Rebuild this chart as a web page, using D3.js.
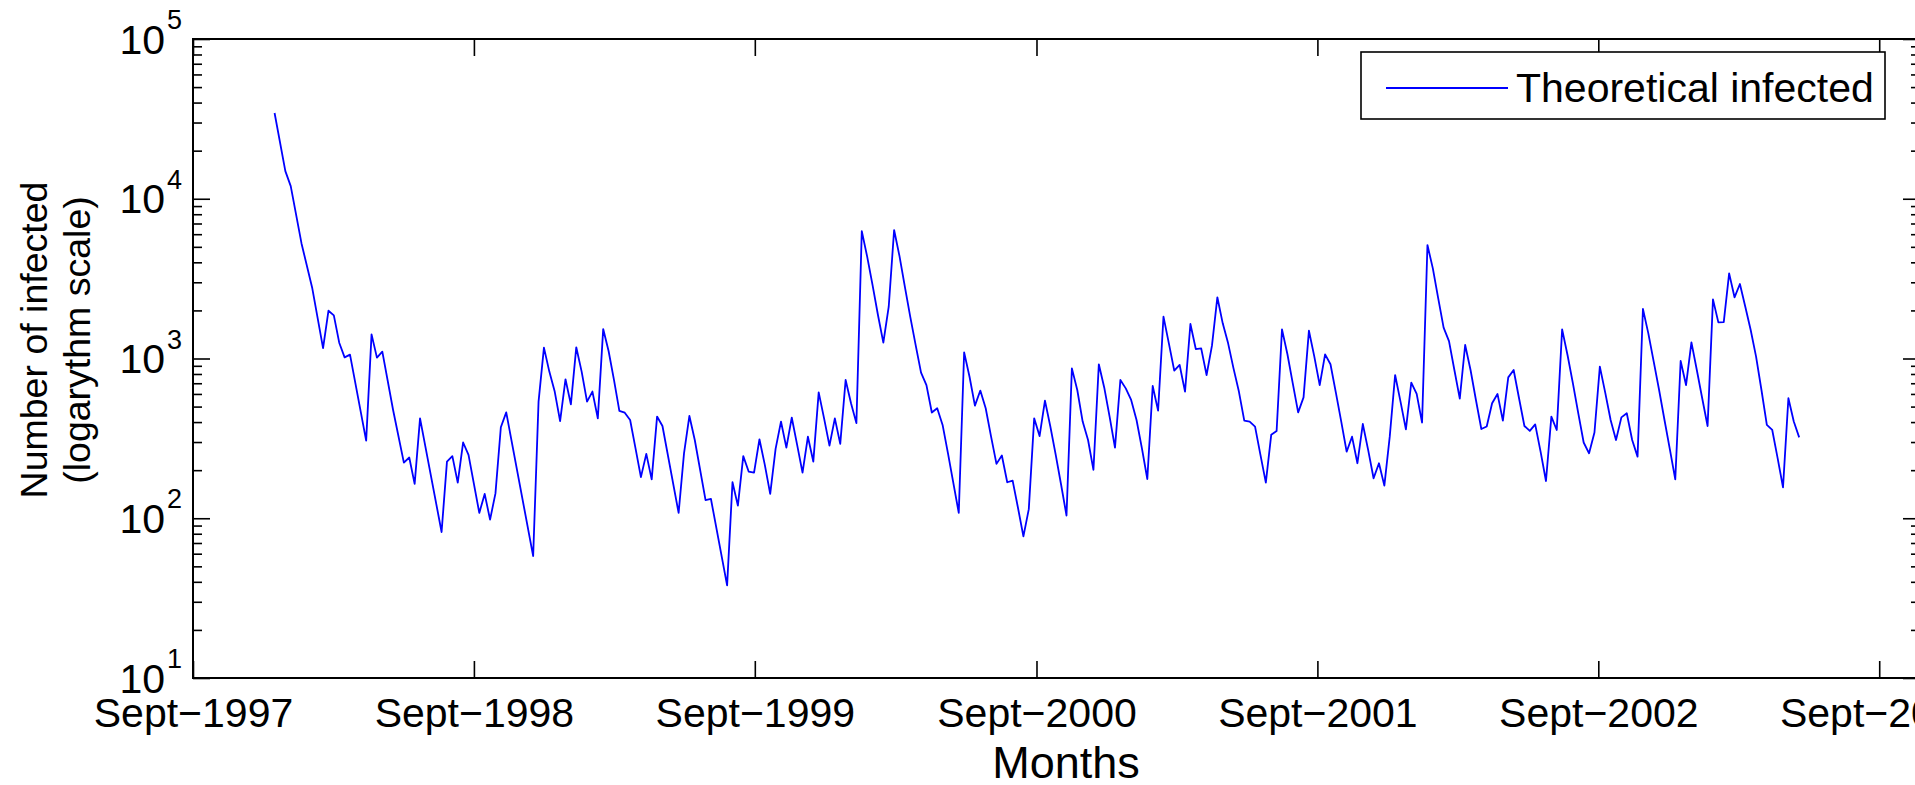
<!DOCTYPE html>
<html lang="en">
<head>
  <meta charset="utf-8">
  <title>Theoretical infected</title>
  <script src="https://d3js.org/d3.v7.min.js"></script>
  <style>
    body { margin: 0; background: #fff; overflow: hidden; }
    .mychart text { font-family: "Liberation Sans", Arial, sans-serif; fill: #000; }
    .mychart .tick line { stroke: #000; stroke-width: 1.6; }
  </style>
</head>
<body>
  <div class="mychart" id="chart"></div>

  <script type="text/javascript">
    "use strict"

    // weeks counted from the first point (16 Dec 1997), one value per visible vertex
    var semanas = [0, 2, 3, 5, 7, 9, 10, 11, 12, 13, 14, 17, 18, 19, 20, 22, 24, 25, 26, 27,
      31, 32, 33, 34, 35, 36, 38, 39, 40, 41, 42, 43, 48, 49, 50, 51, 52, 53, 54, 55,
      56, 57, 58, 59, 60, 61, 62, 63, 64, 65, 66, 67, 68, 69, 70, 71, 72, 75, 76, 77,
      78, 80, 81, 84, 85, 86, 87, 88, 89, 90, 91, 92, 93, 94, 95, 96, 97, 98, 99, 100,
      101, 102, 103, 104, 105, 106, 107, 108, 109, 110, 111, 112, 113, 114, 115, 116, 117, 118, 119, 120,
      121, 122, 123, 124, 125, 126, 127, 128, 129, 130, 131, 132, 133, 134, 135, 136, 137, 138, 139, 140,
      141, 142, 143, 144, 145, 146, 147, 148, 149, 150, 151, 152, 153, 154, 155, 156, 157, 158, 159, 160,
      161, 162, 163, 164, 165, 166, 167, 168, 169, 170, 171, 172, 173, 174, 175, 176, 177, 178, 179, 180,
      181, 182, 183, 184, 185, 186, 187, 188, 189, 190, 191, 192, 193, 194, 195, 196, 197, 198, 199, 200,
      201, 202, 203, 204, 205, 206, 207, 208, 209, 210, 211, 212, 213, 214, 215, 216, 217, 218, 219, 220,
      221, 222, 223, 224, 225, 226, 227, 228, 229, 230, 231, 232, 233, 234, 235, 236, 237, 238, 239, 240,
      241, 242, 243, 244, 245, 246, 247, 248, 249, 250, 251, 252, 253, 254, 255, 256, 257, 258, 259, 260,
      261, 262, 263, 264, 265, 266, 267, 268, 269, 270, 271, 272, 273, 274, 275, 276, 277, 278, 279, 280,
      281, 282, 283];

    var infectados = [34400, 14900, 12000, 5250, 2750, 1160, 1990, 1860, 1256, 1016, 1057, 306, 1416, 1012, 1103, 476, 223, 240, 164, 422,
      82, 226, 245, 167, 298, 249, 108, 142, 98, 143, 371, 460, 58, 537, 1169, 828, 621, 406, 741, 516,
      1175, 828, 537, 621, 422, 1528, 1114, 734, 470, 458, 412, 274, 181, 253, 175, 433, 378, 108, 255, 437,
      309, 130, 132, 38, 168, 120, 245, 196, 193, 312, 216, 142, 272, 403, 277, 427, 288, 193, 324, 226,
      614, 422, 285, 422, 292, 734, 525, 394, 6270, 4340, 2880, 1872, 1256, 2110, 6370, 4370, 2810, 1824, 1214, 815,
      682, 459, 488, 384, 255, 166, 108, 1093, 769, 507, 630, 488, 324, 219, 247, 168, 172, 116, 77, 114,
      422, 327, 545, 375, 249, 162, 104, 867, 635, 403, 309, 201, 920, 659, 433, 277, 734, 650, 550, 412,
      274, 176, 673, 472, 1827, 1244, 839, 911, 621, 1644, 1146, 1157, 788, 1203, 2416, 1660, 1244, 867, 621, 408,
      403, 375, 249, 167, 333, 352, 1522, 1067, 699, 460, 571, 1493, 1027, 682, 1062, 920, 611, 403, 261, 324,
      221, 389, 267, 178, 221, 160, 324, 788, 537, 360, 706, 600, 397, 5130, 3664, 2377, 1559, 1286, 847, 561,
      1215, 847, 550, 362, 375, 525, 600, 408, 762, 847, 564, 378, 352, 387, 261, 171, 433, 357, 1522, 1052,
      699, 454, 298, 255, 344, 889, 611, 412, 309, 428, 454, 309, 243, 2041, 1436, 955, 635, 412, 270, 175,
      965, 682, 1262, 847, 564, 378, 2344, 1683, 1690, 3412, 2416, 2925, 2110, 1507, 1027, 635, 384, 357, 238, 156,
      564, 403, 321];

    var anosTicks = [1997, 1998, 1999, 2000, 2001, 2002, 2003];
    var rotulosX = ["Sept\u22121997", "Sept\u22121998", "Sept\u22121999", "Sept\u22122000",
                    "Sept\u22122001", "Sept\u22122002", "Sept\u22122003"];
    var expoentesY = [1, 2, 3, 4, 5];

    function desenhaLinha() {
      var larguraSVG = 1915, alturaSVG = 785;
      var margin = {top: 39, left: 193, bottom: 107, right: -5}; // right axis falls just outside the picture
      var larguraVis = larguraSVG - margin.left - margin.right,
          alturaVis = alturaSVG - margin.top - margin.bottom;

      var svg = d3.select('#chart')
        .append('svg')
          .attr('width', larguraSVG)
          .attr('height', alturaSVG);

      var grafico = svg.append('g')
          .attr('transform', 'translate(' + margin.left + ',' + margin.top + ')');

      var inicio = new Date(1997, 11, 16);
      var dados = semanas.map(function(s, i) {
        return {data: d3.timeDay.offset(inicio, s * 7), valor: infectados[i]};
      });

      var x = d3.scaleTime()
                .domain([new Date(1997, 8, 1), new Date(2003, 9, 24)])
                .range([0, larguraVis]);

      var y = d3.scaleLog()
                .domain([10, 100000])
                .range([alturaVis, 0]);

      var septs = anosTicks.map(a => new Date(a, 8, 1));
      var maiores = expoentesY.map(e => Math.pow(10, e));
      var menores = [];
      expoentesY.slice(0, -1).forEach(function(e) {
        for (var k = 2; k <= 9; k++) menores.push(k * Math.pow(10, e));
      });

      // ticks pointing inward, on all four sides
      grafico.append('g')
        .attr('transform', 'translate(0,' + alturaVis + ')')
        .call(d3.axisBottom(x).tickValues(septs).tickSize(-17).tickFormat((d, i) => rotulosX[i]))
        .call(g => g.select('.domain').remove())
        .call(g => g.selectAll('text')
          .attr('y', 49).attr('dy', null)
          .style('font-size', '41px'));

      grafico.append('g')
        .call(d3.axisTop(x).tickValues(septs).tickSize(-17).tickFormat(''))
        .call(g => g.select('.domain').remove());

      [[d3.axisLeft, 0], [d3.axisRight, larguraVis]].forEach(function(p) {
        var g1 = grafico.append('g').attr('transform', 'translate(' + p[1] + ',0)');
        g1.call(p[0](y).tickValues(maiores).tickSize(-17).tickFormat(''));
        g1.select('.domain').remove();
        var g2 = grafico.append('g').attr('transform', 'translate(' + p[1] + ',0)');
        g2.call(p[0](y).tickValues(menores).tickSize(-9).tickFormat(''));
        g2.select('.domain').remove();
      });

      // y labels 10^n
      var rot = grafico.append('g');
      rot.selectAll('text.base')
        .data(maiores)
        .enter()
          .append('text')
            .attr('class', 'base')
            .attr('x', -28)
            .attr('y', d => y(d) + 14.6)
            .attr('text-anchor', 'end')
            .style('font-size', '41px')
            .text('10');
      rot.selectAll('text.exp')
        .data(expoentesY)
        .enter()
          .append('text')
            .attr('class', 'exp')
            .attr('x', -26)
            .attr('y', (d, i) => y(maiores[i]) - 10)
            .style('font-size', '27px')
            .text(d => d);

      // the line
      var linha = d3.line()
        .x(d => x(d.data))
        .y(d => y(d.valor));

      grafico.append('path')
        .datum(dados)
        .attr('d', linha)
        .attr('fill', 'none')
        .attr('stroke', '#0000ff')
        .attr('stroke-width', 1.8)
        .attr('stroke-linejoin', 'round');

      // frame
      grafico.append('rect')
        .attr('width', larguraVis)
        .attr('height', alturaVis)
        .attr('fill', 'none')
        .attr('stroke', '#000')
        .attr('stroke-width', 2);

      // legend
      var leg = svg.append('g').attr('transform', 'translate(1361,52)');
      leg.append('rect')
        .attr('width', 524).attr('height', 67)
        .attr('fill', '#fff').attr('stroke', '#000').attr('stroke-width', 1.6);
      leg.append('line')
        .attr('x1', 25).attr('x2', 147).attr('y1', 36).attr('y2', 36)
        .attr('stroke', '#0000ff').attr('stroke-width', 1.8);
      leg.append('text')
        .attr('x', 155).attr('y', 50)
        .style('font-size', '41px')
        .text('Theoretical infected');

      // axis titles
      svg.append('text')
        .attr('x', 1066).attr('y', 778)
        .attr('text-anchor', 'middle')
        .style('font-size', '45px')
        .text('Months');

      var ty = svg.append('text')
        .attr('transform', 'translate(47,340) rotate(-90)')
        .attr('text-anchor', 'middle')
        .style('font-size', '37.5px');
      ty.append('tspan').attr('x', 0).attr('y', 0).text('Number of infected');
      ty.append('tspan').attr('x', 0).attr('y', 43).text('(logarythm scale)');
    }

    desenhaLinha();
  </script>
</body>
</html>
